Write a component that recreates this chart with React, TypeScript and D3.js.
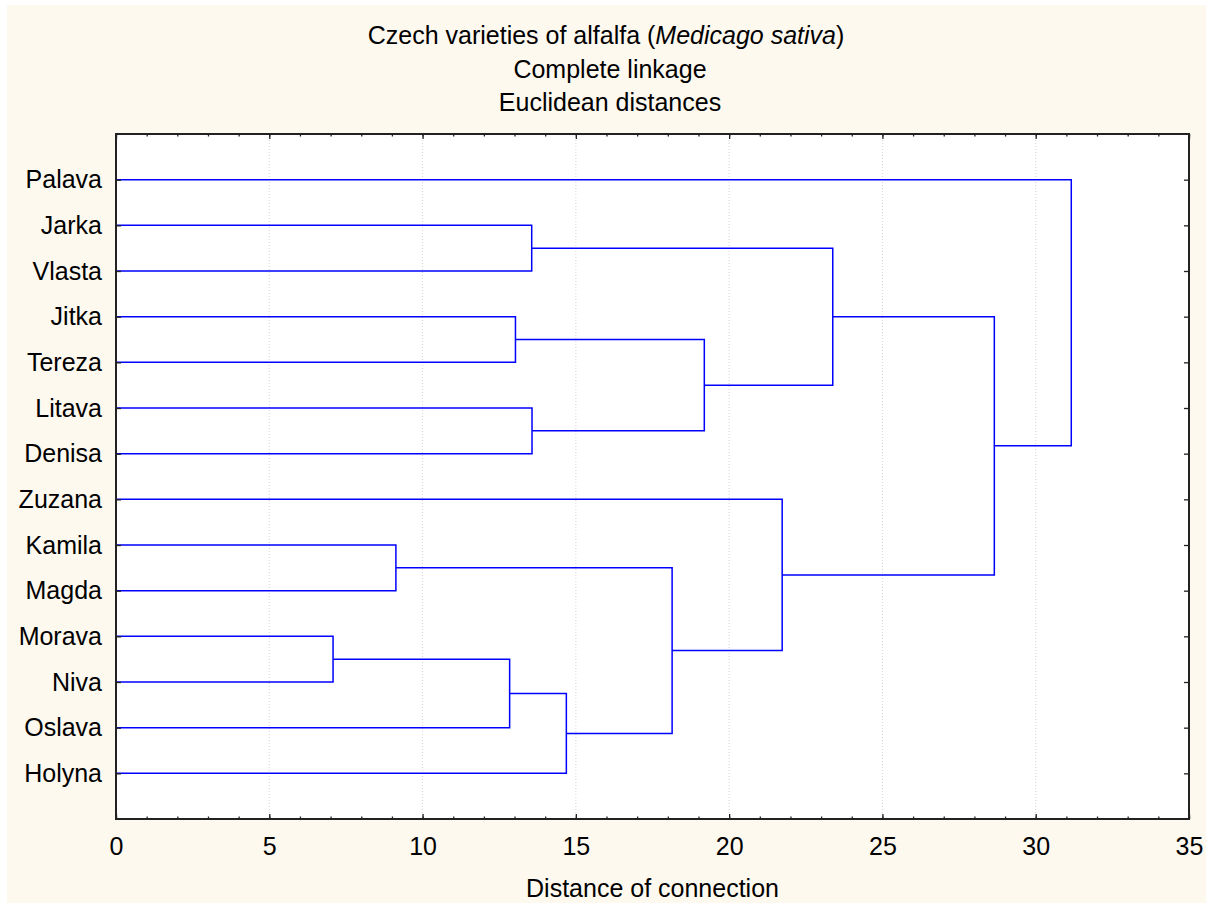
import { useEffect, useRef } from "react";
import * as d3 from "d3";

// leaf order as drawn, top to bottom
const varieties = [
  "Palava", "Jarka", "Vlasta", "Jitka", "Tereza", "Litava", "Denisa",
  "Zuzana", "Kamila", "Magda", "Morava", "Niva", "Oslava", "Holyna",
];

// linkage steps: ids < 14 are leaves, id 14 + k is the k-th merge
const mergeLeft = [10, 8, 14, 3, 1, 5, 16, 15, 17, 7, 18, 24, 0];
const mergeRight = [11, 9, 12, 4, 2, 6, 13, 20, 19, 21, 22, 23, 25];
const mergeHeight = [7.08, 9.13, 12.84, 13.03, 13.56, 13.57, 14.69, 18.14, 19.19, 21.73, 23.38, 28.65, 31.16];

const titleLines = ["Czech varieties of alfalfa (", "Complete linkage", "Euclidean distances"];
const xLabel = "Distance of connection";

const W = 1206;
const H = 903;
const left = 116, right = 1189, top = 134, bottom = 819;
const font = "Arial, 'Liberation Sans', Helvetica, sans-serif";
const fs = 25;

export default function App() {
  const ref = useRef<SVGSVGElement>(null);

  useEffect(() => {
    const svg = d3.select(ref.current);
    svg.selectAll("*").remove();

    const x = d3.scaleLinear().domain([0, 35]).range([left, right]);
    const y = d3.scalePoint<string>().domain(varieties).range([top, bottom]).padding(1);

    svg.append("rect").attr("x", 7).attr("y", 5).attr("width", W - 7).attr("height", H - 5).attr("fill", "#fdf9ef");
    svg.append("rect").attr("x", left).attr("y", top).attr("width", right - left).attr("height", bottom - top).attr("fill", "#ffffff");

    // dotted grid
    svg.append("g").selectAll("line")
      .data(d3.range(5, 35, 5))
      .join("line")
      .attr("x1", d => x(d)).attr("x2", d => x(d))
      .attr("y1", top).attr("y2", bottom)
      .attr("stroke", "#d4d4d4").attr("stroke-dasharray", "1,2");

    // title
    const title = svg.append("text")
      .attr("text-anchor", "middle")
      .attr("font-family", font).attr("font-size", fs).attr("fill", "#000");
    const t0 = title.append("tspan").attr("x", 606).attr("y", 44);
    t0.append("tspan").text(titleLines[0]);
    t0.append("tspan").attr("font-style", "italic").text("Medicago sativa");
    t0.append("tspan").text(")");
    title.append("tspan").attr("x", 610).attr("y", 77.5).text(titleLines[1]);
    title.append("tspan").attr("x", 610).attr("y", 111).text(titleLines[2]);

    // dendrogram
    const nodeY: number[] = varieties.map(v => y(v) as number);
    const nodeH: number[] = varieties.map(() => 0);
    const tree = svg.append("g").attr("fill", "none").attr("stroke", "#0000ff").attr("stroke-width", 1.5);
    mergeHeight.forEach((h, k) => {
      const a = mergeLeft[k], b = mergeRight[k];
      const p = d3.path();
      p.moveTo(x(nodeH[a]), nodeY[a]);
      p.lineTo(x(h), nodeY[a]);
      p.lineTo(x(h), nodeY[b]);
      p.lineTo(x(nodeH[b]), nodeY[b]);
      tree.append("path").attr("d", p.toString());
      nodeY.push((nodeY[a] + nodeY[b]) / 2);
      nodeH.push(h);
    });

    const styleAxis = (g: any) => {
      g.select(".domain").remove();
      g.selectAll("line").attr("stroke", "#222").attr("stroke-width", 1.3);
      g.selectAll("text").attr("font-family", font).attr("font-size", fs).attr("fill", "#000");
    };

    // x axes: major + minor, bottom and top, ticks inward
    svg.append("g").attr("transform", `translate(0,${bottom})`)
      .call(d3.axisBottom(x).tickValues(d3.range(0, 36, 1)).tickSize(-2.5).tickFormat(() => ""))
      .call(styleAxis);
    svg.append("g").attr("transform", `translate(0,${bottom})`)
      .call(d3.axisBottom(x).tickValues(d3.range(0, 36, 5)).tickSize(-5).tickPadding(18.5).tickFormat(d3.format("d")))
      .call(styleAxis);
    svg.append("g").attr("transform", `translate(0,${top})`)
      .call(d3.axisTop(x).tickValues(d3.range(0, 36, 1)).tickSize(-2.5).tickFormat(() => ""))
      .call(styleAxis);
    svg.append("g").attr("transform", `translate(0,${top})`)
      .call(d3.axisTop(x).tickValues(d3.range(0, 36, 5)).tickSize(-5).tickFormat(() => ""))
      .call(styleAxis);

    // y axes
    svg.append("g").attr("transform", `translate(${left},0)`)
      .call(d3.axisLeft(y).tickSize(-5).tickPadding(14))
      .call(styleAxis);
    svg.append("g").attr("transform", `translate(${right},0)`)
      .call(d3.axisRight(y).tickSize(-5).tickFormat(() => ""))
      .call(styleAxis);

    // frame
    svg.append("rect").attr("x", left).attr("y", top).attr("width", right - left).attr("height", bottom - top)
      .attr("fill", "none").attr("stroke", "#222").attr("stroke-width", 2);

    svg.append("text")
      .attr("x", (left + right) / 2).attr("y", 897)
      .attr("text-anchor", "middle")
      .attr("font-family", font).attr("font-size", fs).attr("fill", "#000")
      .text(xLabel);
  }, []);

  return (
    <svg ref={ref} width={W} height={H} style={{ position: "absolute", left: 0, top: 0, background: "#fff" }} />
  );
}
